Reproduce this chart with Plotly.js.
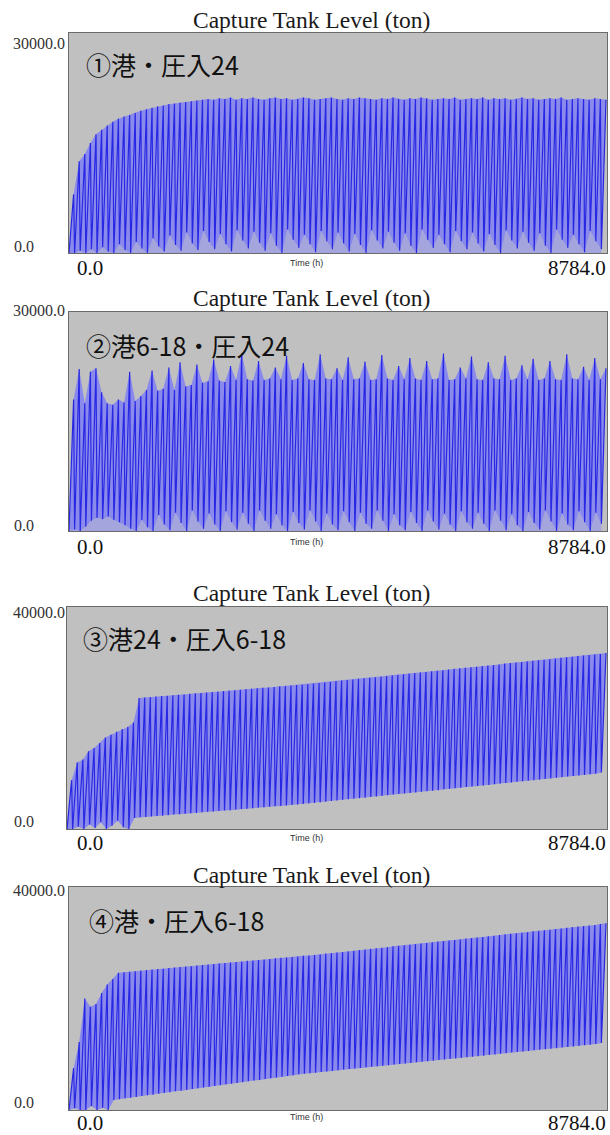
<!DOCTYPE html>
<html><head><meta charset="utf-8">
<script src="https://cdn.plot.ly/plotly-3.0.1.min.js"></script>
<style>html,body{margin:0;padding:0;background:#fff}#chart{width:610px;height:1135px}</style>
</head><body><div id="chart"></div><script>
const HOURS = 8784;
const chartTitle = 'Capture Tank Level (ton)';
const panelLabels = ['①港・圧入24', '②港6-18・圧入24', '③港24・圧入6-18', '④港・圧入6-18'];
const yMax = [30000, 30000, 40000, 40000];
const yTopLabels = ['30000.0', '30000.0', '40000.0', '40000.0'];
const yBottomLabel = '0.0';
const xStartLabel = '0.0';
const xEndLabel = '8784.0';
const xAxisTitle = 'Time (h)';

// Cycle peak / trough tank levels (ton), one value per visible cycle
const p1Peaks = [8000,12500,13500,15000,16200,16800,17400,17900,18300,18600,
 18800,19100,19400,19600,19800,20000,20100,20300,20400,20500,
 20600,20700,20800,20900,21000,20900,21100,21000,21200,20900,
 21100,21000,21200,21000,20900,21100,21200,21000,21100,20900,
 21000,21200,21100,20900,21000,21100,21200,21000,20900,21100,
 21000,21200,21100,21000,20900,21100,21000,21200,21000,20900,
 21100,21000,21200,21100,20900,21000,21100,21000,21200,20900,
 21000,21100,21000,21200,20900,21100,21000,21100,20900,21000,
 21200,21000,21100,20900,21000,21100,21000,21200,20900,21000,
 21100,21000,20900,21100,21000,20900];
const p1Troughs = [0,0,300,0,500,0,800,200,0,1200,
 400,0,1500,600,0,2000,900,200,2400,1100,
 300,2800,1300,400,3000,1500,500,2600,1200,200,
 3100,1700,600,2900,1400,300,2700,1000,0,3200,
 1800,700,2500,1200,100,3000,1600,500,2800,1300,
 200,2600,1100,0,3100,1700,600,2900,1400,300,
 2700,1000,0,3200,1800,700,2500,1200,100,3000,
 1600,500,2800,1300,200,2600,1100,0,3100,1700,
 600,2900,1400,300,2700,1000,0,3200,1800,700,
 2500,1200,100,3000,1600,500];
const p2Peaks = [18000,22200,17500,21800,22300,19000,17500,17300,18000,17600,
 21800,17800,18500,19300,22000,19200,19500,22400,19300,23100,
 19800,20000,22800,20300,20500,23500,20600,20400,22600,20700,
 24300,20800,20600,23300,20700,20900,22400,20800,24000,20700,
 20900,23000,20800,20700,24200,20900,20800,22300,20700,23800,
 20800,20900,23200,20700,20800,24100,20900,20700,22600,20800,
 23700,20900,20700,23300,20800,20900,24300,20700,20800,22400,
 20900,23900,20800,20700,23100,20900,20800,24000,20700,20900,
 22700,20800,23600,20700,20900,23300,20800,20700,24200,20900,
 20800,22500,20700,23700,20800,22300];
const p2Troughs = [0,200,0,600,1400,1800,1600,2000,1500,1200,
 800,300,0,1500,500,0,2200,900,100,2500,
 1100,0,2800,1300,300,2400,900,0,2700,1200,
 200,2500,1000,0,2800,1400,300,2300,800,0,
 2600,1100,200,2800,1300,0,2400,900,100,2700,
 1200,0,2500,1000,300,2800,1400,0,2300,800,
 100,2600,1100,0,2800,1300,200,2400,900,0,
 2700,1200,300,2500,1000,0,2800,1400,100,2300,
 800,0,2600,1100,200,2800,1300,0,2400,900,
 100,2700,1200,0,2500,1000];
const p3Peaks = [8800,12000,12500,14000,14600,15500,16500,17000,17500,18000,
 18400,19200,23600,23700,23750,23850,23950,24000,24100,24200,
 24250,24350,24450,24500,24600,24700,24750,24850,24950,25000,
 25100,25200,25250,25350,25450,25500,25600,25700,25750,25850,
 25950,26000,26100,26200,26300,26400,26500,26650,26750,26850,
 26950,27050,27150,27250,27350,27450,27550,27700,27800,27900,
 28000,28100,28200,28300,28400,28500,28600,28750,28850,28950,
 29050,29150,29250,29350,29450,29550,29650,29800,29900,30000,
 30100,30200,30300,30400,30500,30600,30700,30850,30950,31050,
 31150,31250,31350,31450,31550,31700];
const p3Troughs = [0,0,400,0,800,200,1200,0,600,1500,
 300,0,2000,2100,2150,2250,2350,2400,2500,2600,
 2650,2750,2850,2900,3000,3100,3150,3250,3350,3400,
 3500,3600,3650,3750,3850,3900,4000,4100,4150,4250,
 4350,4400,4500,4600,4700,4800,4900,5050,5150,5250,
 5350,5450,5550,5650,5750,5850,5950,6100,6200,6300,
 6400,6500,6600,6700,6800,6900,7000,7150,7250,7350,
 7450,7550,7650,7750,7850,7950,8050,8200,8300,8400,
 8500,8600,8700,8800,8900,9000,9100,9250,9350,9450,
 9550,9650,9750,9850,9950,10200];
const p4Peaks = [7500,12200,20000,18500,19000,21000,22500,23500,24600,24700,
 24800,24900,25000,25100,25200,25300,25350,25450,25550,25650,
 25750,25800,25900,26000,26100,26200,26300,26350,26450,26550,
 26650,26750,26800,26900,27000,27100,27200,27300,27350,27450,
 27550,27650,27700,27800,27900,28050,28150,28250,28350,28450,
 28550,28700,28800,28900,29000,29100,29200,29350,29450,29550,
 29650,29750,29850,29950,30100,30200,30300,30400,30500,30600,
 30750,30850,30950,31050,31150,31250,31400,31500,31600,31700,
 31800,31900,32050,32150,32250,32350,32450,32550,32700,32800,
 32900,33000,33100,33200,33350,33500];
const p4Troughs = [0,300,0,0,700,0,400,0,1800,1950,
 2100,2200,2350,2500,2650,2750,2900,3050,3200,3350,
 3450,3600,3750,3900,4050,4150,4300,4450,4600,4700,
 4850,5000,5150,5300,5400,5550,5700,5850,5950,6100,
 6250,6400,6500,6600,6700,6800,6900,7000,7150,7250,
 7350,7450,7550,7650,7750,7850,7950,8050,8150,8250,
 8350,8450,8550,8650,8750,8850,8950,9050,9150,9250,
 9350,9450,9550,9650,9750,9850,9950,10100,10200,10300,
 10400,10500,10600,10700,10800,10900,11000,11100,11200,11300,
 11400,11500,11600,11700,11850,12000];

const seriesPeaks = [p1Peaks, p2Peaks, p3Peaks, p4Peaks];
const seriesTroughs = [p1Troughs, p2Troughs, p3Troughs, p4Troughs];

// ---- layout geometry (pixels) ----
const W = 610, H = 1135;
const boxes = [
  {l: 69, r: 607, t: 33,  b: 253},
  {l: 69, r: 607, t: 312, b: 531},
  {l: 67, r: 607, t: 607, b: 829},
  {l: 69, r: 607, t: 887, b: 1110}
];
const titleY = [20, 298, 593, 875];
const labelPos = [{x: 84, y: 64}, {x: 84, y: 345}, {x: 81, y: 638}, {x: 87, y: 920}];
const yTopPos = [43, 310, 612, 890];
const yBotPos = [246, 525, 821, 1102];
const xLabPos = [268, 547, 843, 1123];
const xTitlePos = [263, 542, 838, 1117];
const fillBelowTroughs = [true, true, false, false];

const px = v => v / W;
const py = v => 1 - v / H;

const traces = [];
const layout = {
  width: W, height: H,
  margin: {l: 0, r: 0, t: 0, b: 0},
  paper_bgcolor: '#ffffff',
  plot_bgcolor: '#c0c0c0',
  showlegend: false,
  annotations: []
};

const LINE = 'rgb(40,40,228)';
const BAND = 'rgb(138,138,236)';
const LOWBAND = 'rgb(165,165,222)';

for (let k = 0; k < 4; k++) {
  const peaks = seriesPeaks[k], troughs = seriesTroughs[k];
  const n = peaks.length;
  const step = HOURS / n;
  const tT = [], tP = [], zx = [], zy = [];
  for (let i = 0; i < n; i++) {
    const a = i * step, b = (i + 0.82) * step;
    tT.push(a); tP.push(b);
    zx.push(a, b); zy.push(troughs[i], peaks[i]);
  }
  const xa = k === 0 ? 'x' : 'x' + (k + 1);
  const ya = k === 0 ? 'y' : 'y' + (k + 1);
  const low = {x: tT, y: troughs, xaxis: xa, yaxis: ya, mode: 'lines', line: {width: 0, color: LOWBAND}, hoverinfo: 'skip'};
  if (fillBelowTroughs[k]) { low.fill = 'tozeroy'; low.fillcolor = LOWBAND; }
  traces.push(low);
  traces.push({x: tP, y: peaks, xaxis: xa, yaxis: ya, mode: 'lines', line: {width: 0, color: BAND}, fill: 'tonexty', fillcolor: BAND, hoverinfo: 'skip'});
  traces.push({x: zx, y: zy, xaxis: xa, yaxis: ya, mode: 'lines', line: {width: 1.2, color: LINE}});

  const bx = boxes[k];
  layout[k === 0 ? 'xaxis' : 'xaxis' + (k + 1)] = {domain: [px(bx.l), px(bx.r)], range: [0, HOURS], showticklabels: false, ticks: '', showgrid: false, zeroline: false,
    showline: true, mirror: true, linecolor: '#6a6a6a', linewidth: 1, anchor: ya};
  layout[k === 0 ? 'yaxis' : 'yaxis' + (k + 1)] = {domain: [py(bx.b), py(bx.t)], range: [0, yMax[k]], showticklabels: false, ticks: '', showgrid: false, zeroline: false,
    showline: true, mirror: true, linecolor: '#6a6a6a', linewidth: 1, anchor: xa};

  const serif = 'Liberation Serif, Times New Roman, serif';
  const A = layout.annotations;
  A.push({text: chartTitle, xref: 'paper', yref: 'paper', x: px(311), y: py(titleY[k]), xanchor: 'center', yanchor: 'middle', showarrow: false,
    font: {family: serif, size: 23.5, color: '#1a1a1a'}});
  A.push({text: panelLabels[k], xref: 'paper', yref: 'paper', x: px(labelPos[k].x), y: py(labelPos[k].y), xanchor: 'left', yanchor: 'middle', showarrow: false,
    font: {family: 'Noto Sans CJK JP, Noto Sans, sans-serif', size: 25, color: '#111'}});
  A.push({text: yTopLabels[k], xref: 'paper', yref: 'paper', x: px(11), y: py(yTopPos[k]), xanchor: 'left', yanchor: 'middle', showarrow: false,
    font: {family: serif, size: 16, color: '#333'}});
  A.push({text: yBottomLabel, xref: 'paper', yref: 'paper', x: px(12), y: py(yBotPos[k]), xanchor: 'left', yanchor: 'middle', showarrow: false,
    font: {family: serif, size: 16, color: '#333'}});
  A.push({text: xStartLabel, xref: 'paper', yref: 'paper', x: px(75), y: py(xLabPos[k]), xanchor: 'left', yanchor: 'middle', showarrow: false,
    font: {family: serif, size: 21, color: '#111'}});
  A.push({text: xEndLabel, xref: 'paper', yref: 'paper', x: px(608), y: py(xLabPos[k]), xanchor: 'right', yanchor: 'middle', showarrow: false,
    font: {family: serif, size: 21, color: '#111'}});
  A.push({text: xAxisTitle, xref: 'paper', yref: 'paper', x: px(306), y: py(xTitlePos[k]), xanchor: 'center', yanchor: 'middle', showarrow: false,
    font: {family: 'Liberation Sans, Arial, sans-serif', size: 9, color: '#333'}});
}

Plotly.newPlot('chart', traces, layout, {displayModeBar: false, staticPlot: true});
</script></body></html>
